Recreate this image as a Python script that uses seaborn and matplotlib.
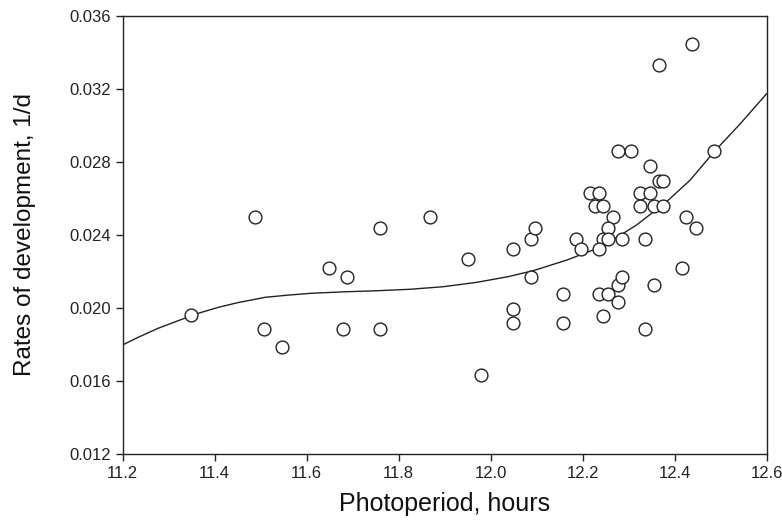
import matplotlib
matplotlib.use("Agg")
import matplotlib.pyplot as plt
import seaborn as sns
import pandas as pd

photoperiod = [11.348, 11.487, 11.508, 11.547, 11.648, 11.689, 11.679, 11.759, 11.759, 11.869,
               11.950, 11.979, 12.048, 12.048, 12.048, 12.087, 12.097, 12.087, 12.157, 12.157,
               12.186, 12.197, 12.217, 12.236, 12.227, 12.245, 12.266, 12.256, 12.245, 12.256,
               12.236, 12.285, 12.277, 12.305, 12.236, 12.256, 12.245, 12.277, 12.285, 12.277,
               12.326, 12.346, 12.326, 12.355, 12.376, 12.346, 12.366, 12.376, 12.366, 12.437,
               12.336, 12.336, 12.356, 12.425, 12.446, 12.416, 12.486]
rate = [0.01959, 0.02500, 0.01886, 0.01784, 0.02218, 0.02169, 0.01886, 0.02439, 0.01886, 0.02500,
        0.02266, 0.01634, 0.02324, 0.01994, 0.01916, 0.02376, 0.02437, 0.02169, 0.02076, 0.01916,
        0.02376, 0.02324, 0.02627, 0.02627, 0.02556, 0.02556, 0.02498, 0.02437, 0.02376, 0.02376,
        0.02324, 0.02376, 0.02857, 0.02857, 0.02076, 0.02076, 0.01956, 0.02125, 0.02169, 0.02034,
        0.02627, 0.02627, 0.02556, 0.02556, 0.02556, 0.02779, 0.02697, 0.02697, 0.03328, 0.03447,
        0.02376, 0.01884, 0.02125, 0.02498, 0.02437, 0.02218, 0.02857]

curve_x = [11.200, 11.234, 11.277, 11.321, 11.364, 11.408, 11.451, 11.510, 11.560, 11.610,
           11.680, 11.753, 11.825, 11.897, 11.970, 12.040, 12.093, 12.166, 12.223, 12.274,
           12.318, 12.383, 12.434, 12.486, 12.541, 12.600]
curve_y = [0.01797, 0.01839, 0.01888, 0.01930, 0.01970, 0.02003, 0.02029, 0.02058, 0.02070, 0.02080,
           0.02088, 0.02094, 0.02102, 0.02116, 0.02140, 0.02172, 0.02204, 0.02262, 0.02317, 0.02385,
           0.02455, 0.02582, 0.02700, 0.02855, 0.03003, 0.03172]

x_ticks = [11.2, 11.4, 11.6, 11.8, 12.0, 12.2, 12.4, 12.6]
y_ticks = [0.012, 0.016, 0.020, 0.024, 0.028, 0.032, 0.036]

sns.set_theme(style="ticks")
plt.rcParams['font.family'] = ['Liberation Sans', 'DejaVu Sans']

fig = plt.figure(figsize=(7.82, 5.32), dpi=100)
ax = fig.add_axes([0.1567, 0.1466, 0.8235, 0.8239])

pts = pd.DataFrame({"x": photoperiod, "y": rate})
crv = pd.DataFrame({"x": curve_x, "y": curve_y})

sns.lineplot(data=crv, x="x", y="y", ax=ax, color="#222222", linewidth=1.0, sort=False)
sns.scatterplot(data=pts, x="x", y="y", ax=ax, s=85, facecolor="white",
                edgecolor="#222222", linewidth=1.0, zorder=3)

ax.set_xlim(11.2, 12.6)
ax.set_ylim(0.012, 0.036)
ax.set_xticks(x_ticks)
ax.set_xticklabels([f"{v:.1f}" for v in x_ticks])
ax.set_yticks(y_ticks)
ax.set_yticklabels([f"{v:.3f}" for v in y_ticks])
ax.tick_params(axis="both", direction="out", length=5, width=1, labelsize=12, colors="#222222")

for s in ax.spines.values():
    s.set_visible(True)
    s.set_color("#222222")
    s.set_linewidth(1.0)

ax.set_xlabel("Photoperiod, hours", fontsize=18, labelpad=8, color="#111111")
ax.set_ylabel("Rates of development, 1/d", fontsize=17.5, labelpad=24, color="#111111")

fig.savefig("out.png", dpi=100, facecolor="white")
